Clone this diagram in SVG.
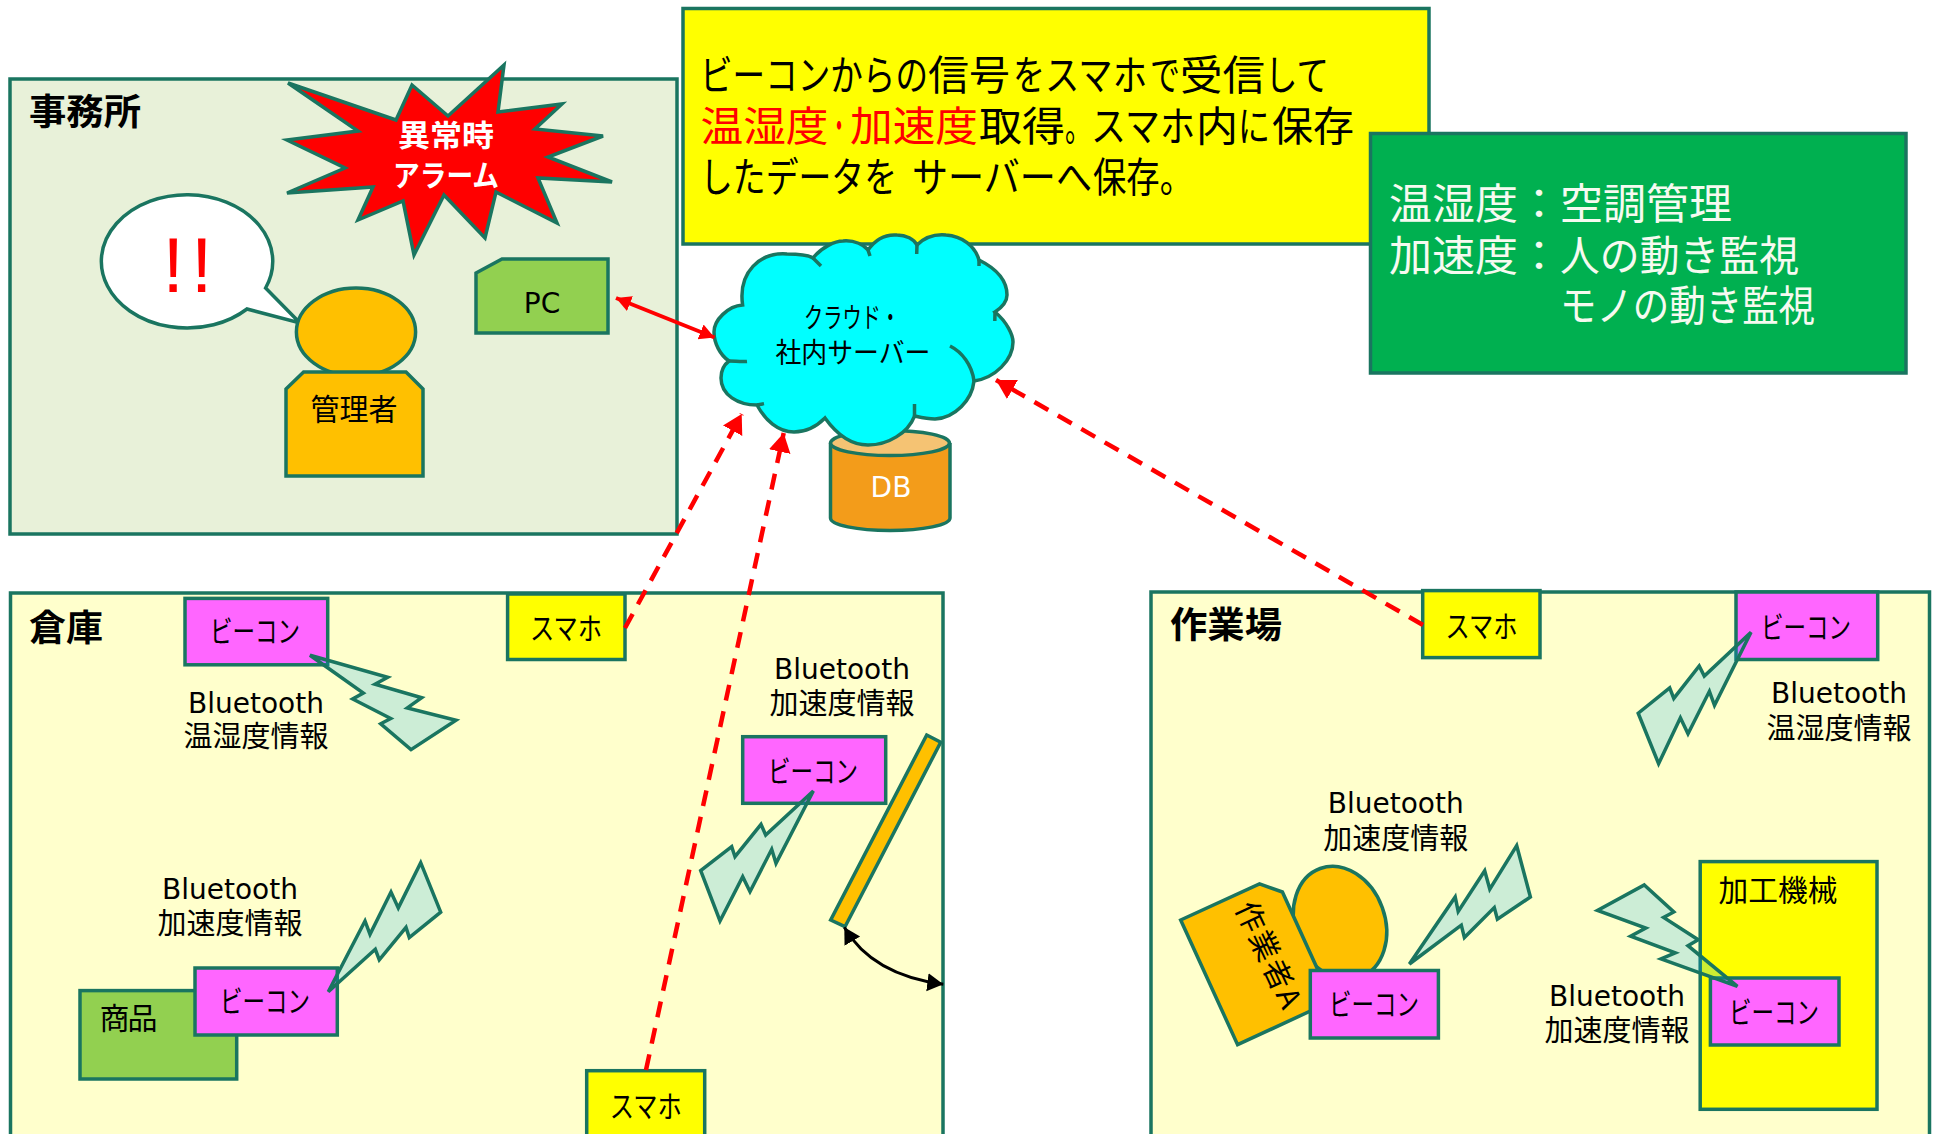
<svg xmlns="http://www.w3.org/2000/svg" width="1937" height="1134" viewBox="0 0 1937 1134">
<style>
.s{stroke:#1a7560;stroke-width:3.5;stroke-linejoin:miter}
.area{fill:#ffffcc}
.beacon{fill:#ff66ff}
.phone{fill:#ffff00}
.bolt{fill:rgb(0,165,255);fill-opacity:.2;stroke:#1a7560;stroke-width:3.5}
.t{font-family:"Noto Sans CJK JP","Liberation Sans",sans-serif;font-size:28px;fill:#000;text-anchor:middle}
.k{font-family:"Noto Sans CJK JP",sans-serif;font-size:30px;fill:#000;text-anchor:middle}
.j{font-family:"Noto Sans CJK JP",sans-serif;font-size:29px;fill:#000;text-anchor:middle}
.w{font-family:"Noto Sans CJK JP",sans-serif;font-size:30px;font-weight:700;fill:#fff;text-anchor:middle}
.h{font-family:"Noto Sans CJK JP",sans-serif;font-size:36px;font-weight:700;fill:#000}
.l{font-family:"Noto Sans CJK JP",sans-serif;font-size:41px;fill:#000}
.g{font-family:"Noto Sans CJK JP",sans-serif;font-size:42px;fill:#f6faf0}
.b{font-family:"DejaVu Sans",sans-serif;font-size:28px;fill:#000;text-anchor:middle}
.red{stroke:#ff0000;stroke-width:4.5;fill:none}
</style>
<defs>
<marker id="ar" markerUnits="userSpaceOnUse" markerWidth="26" markerHeight="26" refX="19" refY="11" orient="auto-start-reverse"><path d="M0,0L19,11L0,22Z" fill="#ff0000"/></marker>
<marker id="as" markerUnits="userSpaceOnUse" markerWidth="20" markerHeight="20" refX="15" refY="8" orient="auto-start-reverse"><path d="M0,0L15,8L0,16Z" fill="#ff0000"/></marker>
<marker id="ak" markerUnits="userSpaceOnUse" markerWidth="20" markerHeight="22" refX="16" refY="9" orient="auto-start-reverse"><path d="M0,0L16,9L0,18Z" fill="#000"/></marker>
</defs>

<g id="office">
<rect class="s" x="10" y="79" width="667" height="455" fill="#e8f1d9"/>
<text class="h" x="29" y="125" textLength="112" lengthAdjust="spacingAndGlyphs">事務所</text>
</g>
<g id="alarm">
<polygon class="s" fill="#ff0000" points="288,83 396,120 412,85 448,116 504,65 498,112 562,104 535,129 603,136 548,157 612,182 538,178 557,223 496,192 485,238 444,195 414,255 403,201 358,220 373,187 287,193 345,168 287,140 358,131"/>
<text class="w" x="446" y="146" textLength="96" lengthAdjust="spacingAndGlyphs">異常時</text>
<text class="w" x="446" y="186" textLength="106" lengthAdjust="spacingAndGlyphs">アラーム</text>
</g>
<g id="bubble">
<path class="s" fill="#fff" d="M265.6,288L300,323L247,309A85.7,66.7 0 1 1 265.6,288Z"/>
<text x="191" y="292" text-anchor="middle" font-family="Liberation Sans,sans-serif" font-size="77" letter-spacing="7" fill="#ff0000">!!</text>
</g>
<g id="manager">
<ellipse class="s" cx="356" cy="332" rx="59.6" ry="44" fill="#ffc000"/>
<polygon class="s" fill="#ffc000" points="303.6,372 406,372 423,389 423,476 286,476 286,389"/>
<text class="k" x="354" y="420" textLength="87" lengthAdjust="spacingAndGlyphs">管理者</text>
</g>
<g id="pc">
<polygon class="s" fill="#92d050" points="502,259 608,259 608,333 476,333 476,273"/>
<text class="b" x="542" y="313">PC</text>
</g>

<g id="textbox">
<rect class="s" x="683" y="8.5" width="746" height="235.5" fill="#ffff00"/>
<text class="l" y="90"><tspan x="700" textLength="228" lengthAdjust="spacingAndGlyphs">ビーコンからの</tspan><tspan x="928" textLength="82" lengthAdjust="spacingAndGlyphs">信号</tspan><tspan x="1013" textLength="32" lengthAdjust="spacingAndGlyphs">を</tspan><tspan x="1045" textLength="102" lengthAdjust="spacingAndGlyphs">スマホ</tspan><tspan x="1150" textLength="30" lengthAdjust="spacingAndGlyphs">で</tspan><tspan x="1180" textLength="85" lengthAdjust="spacingAndGlyphs">受信</tspan><tspan x="1265" textLength="64" lengthAdjust="spacingAndGlyphs">して</tspan></text>
<text class="l" y="141" style="fill:#ff0000"><tspan x="700.500" textLength="128" lengthAdjust="spacingAndGlyphs">温湿度</tspan><tspan x="829" textLength="20" lengthAdjust="spacingAndGlyphs">・</tspan><tspan x="850" textLength="128" lengthAdjust="spacingAndGlyphs">加速度</tspan><tspan x="979" textLength="86" lengthAdjust="spacingAndGlyphs" style="fill:#000">取得</tspan><tspan x="1065" textLength="26" lengthAdjust="spacingAndGlyphs" style="fill:#000">。</tspan><tspan x="1091" textLength="104" lengthAdjust="spacingAndGlyphs" style="fill:#000">スマホ</tspan><tspan x="1196" textLength="42" lengthAdjust="spacingAndGlyphs" style="fill:#000">内</tspan><tspan x="1238" textLength="32" lengthAdjust="spacingAndGlyphs" style="fill:#000">に</tspan><tspan x="1272" textLength="82" lengthAdjust="spacingAndGlyphs" style="fill:#000">保存</tspan></text>
<text class="l" y="192"><tspan x="700" textLength="197" lengthAdjust="spacingAndGlyphs">したデータを</tspan><tspan x="912" textLength="180" lengthAdjust="spacingAndGlyphs">サーバーへ</tspan><tspan x="1093" textLength="100" lengthAdjust="spacingAndGlyphs">保存。</tspan></text>
</g>
<g id="greenbox">
<rect class="s" x="1370.500" y="133.500" width="535.500" height="239.500" fill="#00b050"/>
<text class="g" y="219"><tspan x="1389" textLength="129" lengthAdjust="spacingAndGlyphs">温湿度</tspan><tspan x="1518" textLength="42" lengthAdjust="spacingAndGlyphs">：</tspan><tspan x="1560" textLength="172" lengthAdjust="spacingAndGlyphs">空調管理</tspan></text>
<text class="g" y="271"><tspan x="1389" textLength="129" lengthAdjust="spacingAndGlyphs">加速度</tspan><tspan x="1518" textLength="42" lengthAdjust="spacingAndGlyphs">：</tspan><tspan x="1560" textLength="239" lengthAdjust="spacingAndGlyphs">人の動き監視</tspan></text>
<text class="g" x="1560" y="321" textLength="255" lengthAdjust="spacingAndGlyphs">モノの動き監視</text>
</g>

<g id="db">
<path class="s" fill="#f39c1a" d="M830.5,443V518C830.5,525 857,530.5 890,530.5S950,525 950,518V443"/>
<ellipse class="s" cx="890" cy="443" rx="59.5" ry="12.5" fill="#f5c373"/>
<text class="b" x="891" y="497" style="fill:#fff">DB</text>
</g>
<g id="cloud">
<path class="s" fill="#00ffff" d="M742.6,305C738,272 760,252 787,254C798,254 808,255 813,258C822,247 835,241 843,241C855,240 864,245 868,250C875,240 885,234 897,235C906,235 914,239 917,245C925,237 935,234 946,235C962,236 975,246 979,260C995,268 1007,280 1007,295C1007,302 1001,308 995,312C1007,322 1013,335 1013,342C1013,360 995,378 974,381C972,400 955,418 935,419C927,419 919,417 914.5,416C908,433 888,445 868,445C850,445 835,432 825,418C815,428 805,432 794,432C778,432 765,420 757,405C738,405 721,395 721,378C721,370 725,364 729,361C720,355 714,343 714,332C714,320 728,306 742.6,305Z"/>
<path class="s" fill="none" d="M813,258L821,266M868,250L870,256M917,245L916.7,254M979,260L979,266M995,312L994.8,321M950,346C962,352 972,365 974,381M914.5,416L914.5,404M757,405L764,403.6M729,361C735,361 741,362 747,361.4"/>
<text class="t" x="852" y="328" textLength="96" lengthAdjust="spacingAndGlyphs">クラウド・</text>
<text class="t" x="853" y="363" textLength="155" lengthAdjust="spacingAndGlyphs">社内サーバー</text>
</g>

<g id="warehouse">
<rect class="s area" x="10.5" y="593" width="932.5" height="560"/>
<text class="h" x="29" y="641" textLength="74" lengthAdjust="spacingAndGlyphs">倉庫</text>
</g>
<g id="workshop">
<rect class="s area" x="1151" y="592" width="778.5" height="560"/>
<text class="h" x="1170" y="638" textLength="112" lengthAdjust="spacingAndGlyphs">作業場</text>
</g>

<g id="goods">
<rect class="s" x="80" y="990.600" width="156.700" height="88.400" fill="#92d050"/>
<text class="k" x="128.500" y="1029" textLength="58">商品</text>
</g>
<g id="wh-beacon1">
<rect class="s beacon" x="185" y="598.400" width="142.700" height="66.400"/>
<text class="k" x="255" y="642" textLength="90" lengthAdjust="spacingAndGlyphs">ビーコン</text>
</g>
<g id="wh-bolt1"><polygon class="bolt" points="310,655.300 387.700,677.200 375,684.200 421.700,697.700 407.300,707.900 456,720.300 411,749.600 380.700,723.800 390.700,718.500 352.700,699 363.300,693.100"/></g>
<text class="b" x="256" y="712.500">Bluetooth</text>
<text class="j" x="256" y="747">温湿度情報</text>
<g id="wh-beacon2">
<rect class="s beacon" x="195" y="968" width="142.300" height="67"/>
<text class="k" x="265" y="1012" textLength="90" lengthAdjust="spacingAndGlyphs">ビーコン</text>
</g>
<g id="wh-bolt2"><polygon class="bolt" points="328.300,991.700 365,921 370,934.400 391,892 398.300,907.900 420.700,862.700 440.700,912.200 409.300,937.600 406,927.400 379.300,959.900 375.300,949.300"/></g>
<text class="b" x="230" y="899">Bluetooth</text>
<text class="j" x="230" y="934">加速度情報</text>
<g id="wh-phone1">
<rect class="s phone" x="507.600" y="594" width="117.400" height="65.500"/>
<text class="k" x="566" y="639" textLength="72" lengthAdjust="spacingAndGlyphs">スマホ</text>
</g>
<g id="wh-phone2">
<rect class="s phone" x="586.700" y="1070.700" width="118" height="80"/>
<text class="k" x="645.700" y="1117" textLength="72" lengthAdjust="spacingAndGlyphs">スマホ</text>
</g>
<g id="wh-beacon3">
<rect class="s beacon" x="742.700" y="736.700" width="143" height="66.600"/>
<text class="k" x="813" y="782" textLength="90" lengthAdjust="spacingAndGlyphs">ビーコン</text>
</g>
<g id="wh-bolt3"><polygon class="bolt" points="813.3,791 776,863.3 771.7,849.3 750,891.7 742.7,876.7 720,921 700.7,870.7 731.7,846.7 735,856.7 761,824.3 765.7,835"/></g>
<text class="b" x="842" y="679">Bluetooth</text>
<text class="j" x="842" y="714">加速度情報</text>
<g id="door"><polygon class="s" fill="#ffc000" points="926.7,735 940.7,742.3 845,926.7 830.7,920"/></g>

<g id="ws-phone">
<rect class="s phone" x="1422.700" y="590.600" width="117.300" height="67"/>
<text class="k" x="1481.600" y="637" textLength="72" lengthAdjust="spacingAndGlyphs">スマホ</text>
</g>
<g id="ws-beacon1">
<rect class="s beacon" x="1736" y="592" width="141.700" height="67.500"/>
<text class="k" x="1806" y="638" textLength="90" lengthAdjust="spacingAndGlyphs">ビーコン</text>
</g>
<g id="ws-bolt1"><polygon class="bolt" points="1751,632.3 1714.5,705.4 1709.4,691.3 1688,733.7 1680.4,717.8 1658.6,763.7 1638.2,713.2 1669.7,687.8 1673.8,698.4 1699.2,665.9 1704.3,676.1"/></g>
<text class="b" x="1839" y="702.600">Bluetooth</text>
<text class="j" x="1839" y="739">温湿度情報</text>
<g id="worker">
<ellipse class="s" cx="1340" cy="923" rx="45" ry="58" fill="#ffc000" transform="rotate(-20 1340 923)"/>
<polygon class="s" fill="#ffc000" points="1180.7,920 1259.5,883.9 1282.4,892 1332,1001 1237.6,1044.7"/>
<text class="t" transform="translate(1268 955) rotate(65)" y="10" style="font-size:30px" textLength="114" lengthAdjust="spacing">作業者A</text>
</g>
<g id="ws-beacon2">
<rect class="s beacon" x="1310.300" y="970.500" width="128.100" height="67.500"/>
<text class="k" x="1374" y="1015" textLength="90" lengthAdjust="spacingAndGlyphs">ビーコン</text>
</g>
<g id="ws-bolt2"><polygon class="bolt" points="1409.4,964 1455.2,897 1458.2,911.4 1484.7,870.8 1489.8,889.2 1516.7,845.7 1530.4,897 1497.4,919.2 1494.3,907.6 1464.4,937.6 1461.3,925.2"/></g>
<text class="b" x="1395.700" y="813">Bluetooth</text>
<text class="j" x="1395.700" y="849">加速度情報</text>
<g id="machine">
<rect class="s phone" x="1700.200" y="861.600" width="176.800" height="247.700"/>
<text class="k" x="1778" y="901" textLength="119" lengthAdjust="spacingAndGlyphs">加工機械</text>
</g>
<g id="ws-beacon3">
<rect class="s beacon" x="1710.400" y="978" width="128.600" height="67"/>
<text class="k" x="1774" y="1023" textLength="90" lengthAdjust="spacingAndGlyphs">ビーコン</text>
</g>
<g id="ws-bolt3"><polygon class="bolt" points="1644.3,885 1673.8,912 1663.6,917.5 1698.2,939.7 1688,945.7 1737.4,986.4 1661,958.8 1675.3,952.8 1630.6,936.2 1645.8,928 1597.5,910.4"/></g>
<text class="b" x="1617" y="1006">Bluetooth</text>
<text class="j" x="1617" y="1041">加速度情報</text>

<g id="connectors">
<line class="red" style="stroke-width:4" x1="616" y1="298" x2="714.5" y2="337.500" marker-start="url(#as)" marker-end="url(#as)"/>
<line class="red" x1="625" y1="628" x2="741.700" y2="414" stroke-dasharray="16 11" marker-end="url(#ar)"/>
<line class="red" x1="646" y1="1070" x2="783.700" y2="433" stroke-dasharray="16 11" marker-end="url(#ar)"/>
<line class="red" x1="1423" y1="625" x2="996" y2="380" stroke-dasharray="16 11" marker-end="url(#ar)"/>
<path d="M844.300,927.300Q872,975 943.300,984.300" fill="none" stroke="#000" stroke-width="3" marker-start="url(#ak)" marker-end="url(#ak)"/>
</g>
</svg>
